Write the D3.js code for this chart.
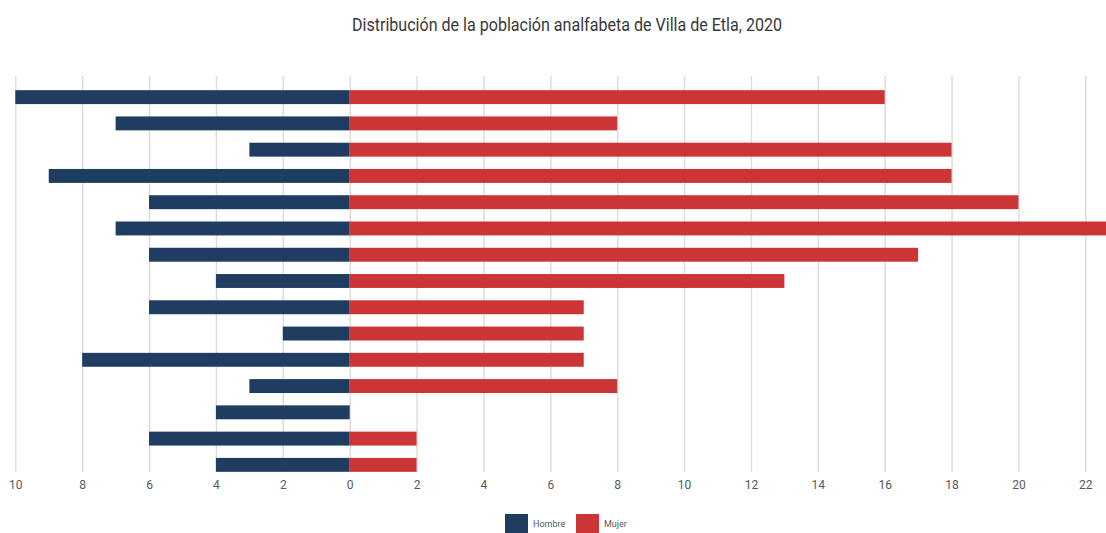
<!DOCTYPE html>
<html>
<head>
<meta charset="utf-8">
<script src="https://cdn.jsdelivr.net/npm/d3@7"></script>
<style>
  html, body { margin: 0; padding: 0; background: #fff; }
  svg { display: block; font-family: "Roboto", "DejaVu Sans Condensed", sans-serif; }
</style>
</head>
<body>
<svg id="chart" width="1106" height="533"></svg>
<script>
// Age groups (not labelled on the chart), top to bottom
const groups = ["g1","g2","g3","g4","g5","g6","g7","g8","g9","g10","g11","g12","g13","g14","g15"];
const hombre = [10, 7, 3, 9, 6, 7, 6, 4, 6, 2, 8, 3, 4, 6, 4];
const mujer  = [16, 8, 18, 18, 20, 23, 17, 13, 7, 7, 7, 8, 0, 2, 2];
const tickValues = [-10, -8, -6, -4, -2, 0, 2, 4, 6, 8, 10, 12, 14, 16, 18, 20, 22];
const seriesNames = ["Hombre", "Mujer"];
const colors = ["#1e3d60", "#cc3535"];
const title = "Distribución de la población analfabeta de Villa de Etla, 2020";

const svg = d3.select("#chart");

const x = d3.scaleLinear().domain([-10, 22]).range([15.3, 1085.3]);
const y = d3.scaleBand().domain(groups).range([84, 478]).paddingInner(0.47).paddingOuter(0.235);

// title, narrowed to a condensed look
svg.append("text")
  .attr("x", 567).attr("y", 31)
  .attr("text-anchor", "middle")
  .attr("fill", "#383838")
  .attr("textLength", 430)
  .attr("lengthAdjust", "spacingAndGlyphs")
  .style("font-size", "19px")
  .text(title);

// vertical grid + bottom tick labels
const axis = d3.axisBottom(x)
  .tickValues(tickValues)
  .tickFormat(d => Math.abs(d))
  .tickSize(-(472 - 76))
  .tickPadding(8);

const gAxis = svg.append("g")
  .attr("transform", "translate(0,472)")
  .call(axis);
gAxis.select(".domain").remove();
gAxis.selectAll(".tick line").attr("stroke", "#dddddd").attr("stroke-width", 1.5);
gAxis.selectAll(".tick text")
  .attr("fill", "#555a60")
  .style("font-size", "12px")
  .style("font-family", "\"Roboto\", sans-serif");

// bars
const rows = groups.map((g, i) => ({ g, h: hombre[i], m: mujer[i] }));
const bh = y.bandwidth();

svg.append("g").selectAll("rect")
  .data(rows).join("rect")
  .attr("x", d => x(-d.h))
  .attr("y", d => y(d.g))
  .attr("width", d => x(0) - x(-d.h))
  .attr("height", bh)
  .attr("fill", colors[0]);

svg.append("g").selectAll("rect")
  .data(rows.filter(d => d.m > 0)).join("rect")
  .attr("x", x(0))
  .attr("y", d => y(d.g))
  .attr("width", d => x(d.m) - x(0))
  .attr("height", bh)
  .attr("fill", colors[1]);

// legend
const legend = svg.append("g");
const legendX = [505, 576];
seriesNames.forEach((name, i) => {
  legend.append("rect")
    .attr("x", legendX[i]).attr("y", 514)
    .attr("width", 23).attr("height", 19)
    .attr("fill", colors[i]);
  legend.append("text")
    .attr("x", legendX[i] + 28).attr("y", 527)
    .attr("fill", "#555a60")
    .style("font-size", "9px")
    .text(name);
});
</script>
</body>
</html>
